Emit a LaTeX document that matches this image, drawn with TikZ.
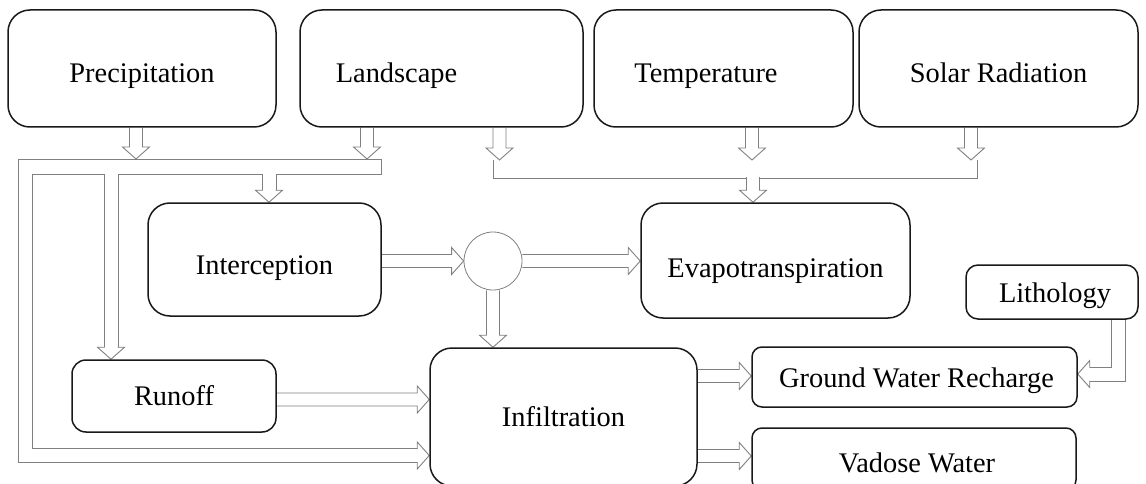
\documentclass[tikz,border=0pt]{standalone}
\usepackage{fontspec}
\setmainfont{Liberation Serif}
\usetikzlibrary{calc}
\pgfdeclarelayer{bg}
\pgfsetlayers{bg,main}
\tikzset{
  box/.style={draw=black!90, line width=1.5pt, rounded corners=22pt, inner sep=0pt},
  txt/.style={font=\fontsize{28.4}{32}\selectfont, text height=19pt, text depth=0pt, inner sep=0pt},
  arr/.style={draw=black!50, line width=0.9pt, fill=white, line join=miter},
  edgeline/.style={draw=black!50, line width=0.9pt},
  bandout/.style={draw=black!50, line width=15pt, line join=miter},
  bandin/.style={draw=white, line width=13pt, line join=miter},
}
\newcommand\ArrDown[2]{\draw[arr] let \p1=#1, \p2=#2 in (\x2-6.5pt,\y1) -- (\x2-6.5pt,\y2+12pt) -- (\x2-13.5pt,\y2+12pt) -- (\x2,\y2) -- (\x2+13.5pt,\y2+12pt) -- (\x2+6.5pt,\y2+12pt) -- (\x2+6.5pt,\y1);}
\newcommand\ArrRight[2]{\draw[arr] let \p1=#1, \p2=#2 in (\x1,\y2+6.5pt) -- (\x2-12pt,\y2+6.5pt) -- (\x2-12pt,\y2+13.5pt) -- (\x2,\y2) -- (\x2-12pt,\y2-13.5pt) -- (\x2-12pt,\y2-6.5pt) -- (\x1,\y2-6.5pt);}
\newcommand\HeadDown[1]{\draw[arr] let \p2=#1 in (\x2-6.5pt,\y2+12pt) -- (\x2-13.5pt,\y2+12pt) -- (\x2,\y2) -- (\x2+13.5pt,\y2+12pt) -- (\x2+6.5pt,\y2+12pt);}
\newcommand\HeadRight[1]{\draw[arr] let \p2=#1 in (\x2-12pt,\y2+6.5pt) -- (\x2-12pt,\y2+13.5pt) -- (\x2,\y2) -- (\x2-12pt,\y2-13.5pt) -- (\x2-12pt,\y2-6.5pt);}
\newcommand\HeadLeft[1]{\draw[arr] let \p2=#1 in (\x2+12pt,\y2+6.5pt) -- (\x2+12pt,\y2+13.5pt) -- (\x2,\y2) -- (\x2+12pt,\y2-13.5pt) -- (\x2+12pt,\y2-6.5pt);}
\begin{document}
\begin{tikzpicture}[x=1pt,y=-1pt]
\useasboundingbox (0,0) rectangle (1146,484);
\clip (0,0) rectangle (1146,484);
% boxes
\node[box, minimum width=268pt, minimum height=117pt, label={[txt, yshift=-4.5pt]center:Precipitation}] (prec) at (142,68.5) {};
\node[box, minimum width=283pt, minimum height=117pt, label={[txt, xshift=-45pt, yshift=-4.5pt]center:Landscape}] (land) at (441.5,68.5) {};
\node[box, minimum width=259pt, minimum height=117pt, label={[txt, xshift=-17.5pt, yshift=-4.5pt]center:Temperature}] (temp) at (723.5,68.5) {};
\node[box, minimum width=279pt, minimum height=117pt, label={[txt, yshift=-4.5pt]center:Solar Radiation}] (solar) at (998.5,68.5) {};
\node[box, minimum width=233pt, minimum height=113pt, label={[txt, yshift=-5.5pt]center:Interception}] (inter) at (264.5,259.5) {};
\node[box, minimum width=269pt, minimum height=115pt, label={[txt, yshift=-7.5pt]center:Evapotranspiration}] (evap) at (775.5,260.5) {};
\node[box, rounded corners=12pt, minimum width=172pt, minimum height=54pt, label={[txt, xshift=3pt, yshift=-1pt]center:Lithology}] (litho) at (1052,292) {};
\node[box, rounded corners=14pt, minimum width=204pt, minimum height=72pt, label={[txt]center:Runoff}] (runoff) at (174,396) {};
\node[box, minimum width=267pt, minimum height=138pt, label={[txt]center:Infiltration}] (infil) at (563.5,417) {};
\node[box, rounded corners=10pt, minimum width=325pt, minimum height=60pt, label={[txt, xshift=2pt, yshift=-1pt]center:Ground Water Recharge}] (gwr) at (914.5,377) {};
\node[box, rounded corners=10pt, minimum width=324pt, minimum height=62pt, label={[txt, xshift=3pt, yshift=-4pt]center:Vadose Water}] (vadose) at (914,459) {};
\node[draw=black!50, line width=0.8pt, circle, minimum size=58pt, inner sep=0pt] (circ) at (493,261) {};
\begin{pgfonlayer}{bg}
% collector band (precipitation + landscape)
\draw[bandout] (381,167) -- (25,167) -- (25,455.5) -- (418,455.5);
\draw[bandout] (111,167) -- (111,348);
\draw[bandout] (269,167) -- (269,191);
\draw[bandin] (381,167) -- (25,167) -- (25,455.5) -- (418,455.5);
\draw[bandin] (111,167) -- (111,348);
\draw[bandin] (269,167) -- (269,191);
\draw[edgeline] (381,159.5) -- (381,174.5);
\ArrDown{(136,0 |- prec.south)}{(136,159)}
\ArrDown{(367,0 |- land.south)}{(367,159)}
\HeadDown{(111,0 |- runoff.north)}
\HeadDown{(269,0 |- inter.north)}
\HeadRight{(infil.west |- 0,455.5)}
% evapotranspiration collector
\ArrDown{(499.5,0 |- land.south)}{(499.5,160)}
\ArrDown{(752,0 |- temp.south)}{(752,160)}
\ArrDown{(971,0 |- solar.south)}{(971,160)}
\draw[edgeline] (493,160) -- (493,178) -- (977.5,178) -- (977.5,160);
\ArrDown{(753,177)}{(753,0 |- evap.north)}
% interception / circle
\ArrRight{(inter.east)}{(circ.west)}
\ArrRight{(circ.east)}{(evap.west |- circ)}
\ArrDown{(circ.south)}{(circ.south |- infil.north)}
% runoff to infiltration
\ArrRight{(runoff.east |- 0,399.5)}{(infil.west |- 0,399.5)}
% infiltration outputs
\ArrRight{(infil.east |- 0,376)}{(gwr.west |- 0,376)}
\ArrRight{(infil.east |- 0,456)}{(vadose.west |- 0,456)}
% lithology elbow
\draw[bandout] (1118,0 |- litho.south) -- (1118,374) -- (1089,374);
\draw[bandin] (1118,0 |- litho.south) -- (1118,374) -- (1089,374);
\HeadLeft{(gwr.east |- 0,374)}
\end{pgfonlayer}
\end{tikzpicture}
\end{document}
